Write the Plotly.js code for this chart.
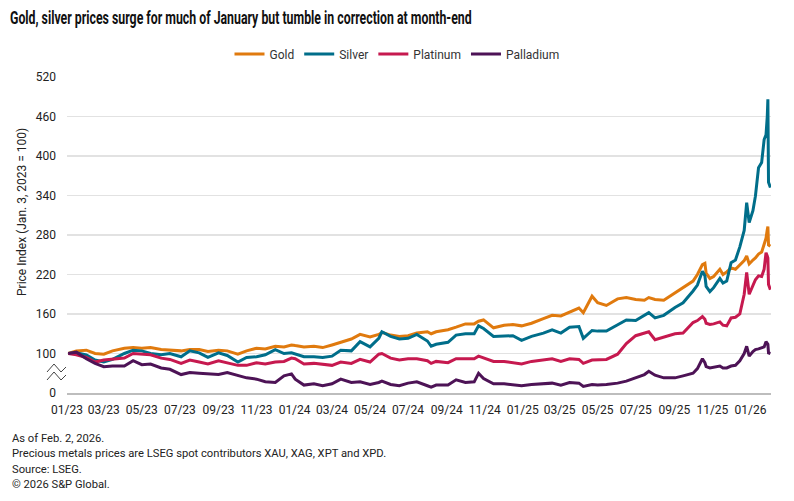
<!DOCTYPE html>
<html>
<head>
<meta charset="utf-8">
<script src="https://cdn.plot.ly/plotly-3.0.1.min.js"></script>
<style>
  html, body { margin: 0; padding: 0; background: #fff; }
  #chart { width: 794px; height: 501px; }
</style>
</head>
<body>
<div id="chart"></div>
<script>
const dates = [
'2023-01-03','2023-01-16','2023-02-01','2023-02-15','2023-03-01','2023-03-15','2023-04-03','2023-04-17','2023-05-01','2023-05-15','2023-06-01','2023-06-15','2023-07-03','2023-07-17','2023-08-01','2023-08-15','2023-09-01','2023-09-15','2023-10-02','2023-10-16','2023-11-01','2023-11-15','2023-12-01','2023-12-15','2023-12-27',
'2024-01-02','2024-01-16','2024-02-01','2024-02-15','2024-03-01','2024-03-15','2024-04-01','2024-04-15','2024-05-01','2024-05-15','2024-05-20','2024-06-03','2024-06-17','2024-07-01','2024-07-15','2024-08-01','2024-08-07','2024-08-15','2024-09-03','2024-09-16','2024-10-01','2024-10-15','2024-10-22','2024-10-30','2024-11-15','2024-12-02','2024-12-16','2024-12-30',
'2025-01-15','2025-02-03','2025-02-17','2025-03-03','2025-03-17','2025-04-01','2025-04-08','2025-04-22','2025-05-01','2025-05-15','2025-06-02','2025-06-16','2025-07-01','2025-07-15','2025-07-22','2025-08-01','2025-08-15','2025-09-02','2025-09-15','2025-10-01','2025-10-08','2025-10-16','2025-10-20','2025-10-22','2025-10-28','2025-11-03','2025-11-13','2025-11-18','2025-11-24','2025-12-01','2025-12-08','2025-12-15','2025-12-22','2025-12-26','2025-12-30',
'2026-01-05','2026-01-09','2026-01-14','2026-01-19','2026-01-23','2026-01-26','2026-01-28','2026-01-29','2026-01-30','2026-02-02'];

const gold = [
100,104,105,100,99,104,108,109,108,109,106,105,104,106,106,103,105,104,99,104,108,107,111,110,113,
112,110,111,109,113,117,122,129,125,129,132,128,126,127,131,133,130,133,136,140,145,145,149,151,139,143,144,142,
146,153,158,157,163,169,162,187,177,173,183,185,182,181,185,182,181,192,200,210,220,235,237,222,214,217,228,220,224,230,228,235,241,248,236,
242,245,251,254,266,275,288,293,265,263];

const silver = [
100,101,98,90,87,91,100,105,104,100,98,100,95,104,101,94,101,97,87,94,95,98,106,100,101,
99,95,95,94,96,105,104,118,110,123,133,126,122,123,129,119,111,114,117,128,130,130,142,138,126,126,127,120,
126,131,136,131,140,141,123,135,134,134,143,151,150,158,162,154,158,170,177,195,204,225,218,202,194,200,214,207,210,238,242,262,287,329,299,
317,339,382,390,425,432,460,486,360,352];

const platinum = [
100,98,94,87,90,91,93,100,99,98,93,91,85,90,87,84,89,86,82,82,86,84,87,88,93,
92,84,85,83,82,87,85,91,87,99,100,93,90,92,92,89,85,88,86,92,92,92,96,93,88,88,86,84,
88,90,92,88,92,91,85,90,90,91,99,115,127,131,133,121,125,130,131,147,150,156,152,146,144,145,148,143,142,154,155,160,190,223,190,
205,212,218,217,228,253,248,245,205,197];

const palladium = [
100,102,92,85,80,81,81,89,83,84,78,76,68,71,70,69,68,71,67,63,61,57,56,66,69,
61,52,54,51,54,61,56,57,53,56,58,53,51,55,57,51,49,52,52,60,56,57,70,62,54,54,53,51,
53,54,55,52,56,55,50,53,52,53,55,58,63,68,73,67,63,63,66,70,77,92,86,80,78,79,81,78,78,81,82,89,100,111,96,
103,106,107,109,110,118,116,114,101,100];

// Broken axis: the bottom of the axis (value 40) is labelled "0"
const yTickVals = [40, 100, 160, 220, 280, 340, 400, 460, 520];
const yTickText = ['0', '100', '160', '220', '280', '340', '400', '460', '520'];

const seriesNames = ['Gold', 'Silver', 'Platinum', 'Palladium'];
const seriesColors = ['#E07A0E', '#006E8A', '#C6194F', '#4D1356'];
const seriesValues = [gold, silver, platinum, palladium];

const titleText = 'Gold, silver prices surge for much of January but tumble in correction at month-end';
const yTitleText = 'Price Index (Jan. 3, 2023 = 100)';
const footnotes = [
  'As of Feb. 2, 2026.',
  'Precious metals prices are LSEG spot contributors XAU, XAG, XPT and XPD.',
  'Source: LSEG.',
  '\u00A9 2026 S&P Global.'
];

const W = 794, H = 501;
const M = { l: 67, r: 23, t: 77, b: 108 };
const PW = W - M.l - M.r, PH = H - M.t - M.b;
const px = x => (x - M.l) / PW;           // pixel x -> paper
const py = y => (H - M.b - y) / PH;       // pixel y -> paper
const TITLE_WIDTH = 462;                  // condensed title width in the reference

const FONT = 'Roboto, "Noto Sans", Arial, sans-serif';

const traces = seriesNames.map((n, i) => ({
  type: 'scatter', mode: 'lines', name: n,
  x: dates, y: seriesValues[i],
  line: { color: seriesColors[i], width: 3 },
  hoverinfo: 'skip'
}));

const zig = y => `M ${px(47)} ${py(y + 4)} L ${px(54)} ${py(y - 4)} L ${px(61)} ${py(y + 4)} L ${px(66)} ${py(y - 1)}`;

const annotations = footnotes.map((t, i) => ({
  text: t, xref: 'paper', yref: 'paper',
  x: px(10), y: py(438 + i * 15.5), xanchor: 'left', yanchor: 'middle',
  showarrow: false, font: { family: FONT, size: 11.2, color: '#222' }
}));
annotations.push({
  text: yTitleText, textangle: -90,
  xref: 'paper', yref: 'paper', x: px(22), y: py(212),
  xanchor: 'center', yanchor: 'middle', showarrow: false,
  font: { family: FONT, size: 12, color: '#222' }
});

const layout = {
  width: W, height: H,
  margin: M,
  paper_bgcolor: '#fff', plot_bgcolor: '#fff',
  font: { family: FONT, color: '#222' },
  title: {
    text: titleText,
    xref: 'container', yref: 'container', x: 10 / W, y: 1 - 18 / H,
    xanchor: 'left', yanchor: 'middle',
    font: { family: FONT, size: 17.5, color: '#111', weight: 'bold' }
  },
  showlegend: true,
  legend: {
    orientation: 'h', xref: 'container', x: 0.5, xanchor: 'center',
    yref: 'container', y: 1 - 54 / H, yanchor: 'middle',
    font: { family: FONT, size: 12, color: '#333' },
    itemwidth: 30, tracegroupgap: 0
  },
  xaxis: {
    type: 'date',
    range: ['2023-01-01', '2026-02-03'],
    tick0: '2023-01-01', dtick: 'M2', tickformat: '%m/%y',
    showgrid: false, zeroline: false,
    showline: true, linecolor: '#bdbdbd', linewidth: 1.5,
    ticks: '', ticklabelstandoff: 5,
    tickfont: { family: FONT, size: 12, color: '#222' }
  },
  yaxis: {
    range: [40, 520],
    tickmode: 'array', tickvals: yTickVals, ticktext: yTickText,
    showgrid: true, gridcolor: '#e2e2e2', gridwidth: 1.5,
    zeroline: false, showline: false, ticks: '',
    ticklabelstandoff: 10,
    tickfont: { family: FONT, size: 12, color: '#222' }
  },
  shapes: [
    { type: 'path', xref: 'paper', yref: 'paper', path: zig(368), line: { color: '#444', width: 1 } },
    { type: 'path', xref: 'paper', yref: 'paper', path: zig(376), line: { color: '#444', width: 1 } }
  ],
  annotations: annotations
};

Plotly.newPlot('chart', traces, layout, { displayModeBar: false, staticPlot: true }).then(gd => {
  // The reference title is set in a condensed face; narrow the real text horizontally to match.
  const t = gd.querySelector('.gtitle');
  if (t) {
    const bb = t.getBBox();
    const s = TITLE_WIDTH / bb.width;
    if (s < 1) {
      t.setAttribute('transform', `translate(${bb.x},0) scale(${s},1) translate(${-bb.x},0)`);
    }
  }
});
</script>
</body>
</html>
